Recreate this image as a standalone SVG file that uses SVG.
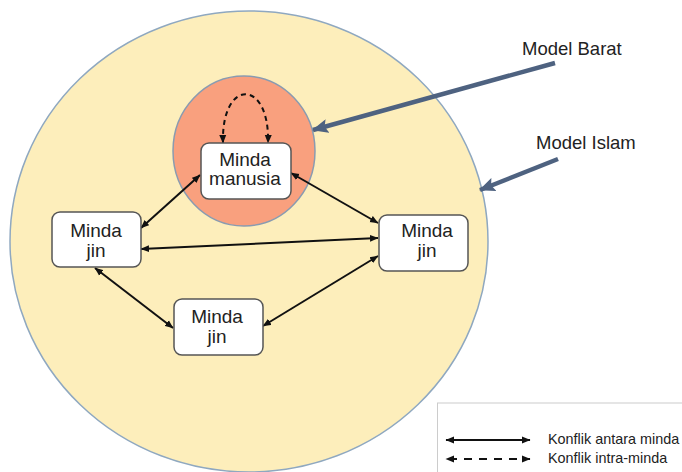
<svg xmlns="http://www.w3.org/2000/svg" width="682" height="472" viewBox="0 0 682 472">
<defs>
<marker id="ah" markerUnits="userSpaceOnUse" markerWidth="9" markerHeight="8" refX="8" refY="4" orient="auto-start-reverse" viewBox="0 0 9 8"><path d="M0,0.5 L8.5,4 L0,7.5 z" fill="#111"/></marker>
<marker id="bh" markerUnits="userSpaceOnUse" markerWidth="16" markerHeight="14" refX="15" refY="7" orient="auto" viewBox="0 0 16 14"><path d="M0,0 L16,7 L0,14 L3,7 z" fill="#4e6280"/></marker>
</defs>
<style>
.box{fill:#fff;stroke:#555;stroke-width:1.5}
.t{font-family:"Liberation Sans",Arial,sans-serif;font-size:19px;fill:#222;text-anchor:middle}
.lbl{font-family:"Liberation Sans",Arial,sans-serif;font-size:18.5px;fill:#222}
.lg{font-family:"Liberation Sans",Arial,sans-serif;font-size:14.4px;fill:#222}
.c{stroke:#111;stroke-width:2;fill:none;marker-start:url(#ah);marker-end:url(#ah)}
.d{stroke-dasharray:5,4}
.dl{stroke-dasharray:8,7;stroke-dashoffset:-3}
.m{stroke:#4e6280;stroke-width:4.5;fill:none;marker-end:url(#bh)}
</style>
<g id="islam"><ellipse cx="249" cy="241.5" rx="239" ry="230.5" fill="#fdeebb" stroke="#8fa8c0" stroke-width="1.5"/></g>
<g id="barat"><ellipse cx="244" cy="151" rx="71" ry="75" fill="#f9a07e" stroke="#8a9bb0" stroke-width="1.5"/></g>
<g id="connectors">
<path class="c d" d="M223,143 C221,78 270,78 268,143"/>
<line class="c" x1="141" y1="228" x2="200" y2="175"/>
<line class="c" x1="291" y1="173" x2="378" y2="223"/>
<line class="c" x1="141" y1="249" x2="378" y2="238"/>
<line class="c" x1="95" y1="268" x2="173" y2="328"/>
<line class="c" x1="263" y1="326" x2="378" y2="256"/>
<line class="m" x1="555" y1="63" x2="313" y2="130"/>
<line class="m" x1="558" y1="159" x2="480" y2="190"/>
</g>
<g id="manusia"><rect class="box" x="201" y="143" width="90" height="56" rx="8"/><text class="t" x="245" y="166">Minda</text><text class="t" x="245" y="185">manusia</text></g>
<g id="jin-left"><rect class="box" x="52" y="212" width="89" height="55" rx="8"/><text class="t" x="96" y="237">Minda</text><text class="t" x="96" y="257">jin</text></g>
<g id="jin-right"><rect class="box" x="379" y="215" width="89" height="56" rx="8"/><text class="t" x="427" y="237">Minda</text><text class="t" x="427" y="257">jin</text></g>
<g id="jin-bottom"><rect class="box" x="174" y="299" width="89" height="56" rx="8"/><text class="t" x="217" y="323">Minda</text><text class="t" x="217" y="343">jin</text></g>
<g id="labels"><text class="lbl" x="522" y="55">Model Barat</text><text class="lbl" x="536" y="149">Model Islam</text></g>
<g id="legend">
<rect x="437.5" y="403" width="260" height="80" fill="#fff" stroke="#ccc" stroke-width="1"/>
<line class="c" x1="446" y1="440" x2="530" y2="440"/>
<line class="c dl" x1="446" y1="459" x2="530" y2="459"/>
<text class="lg" x="548" y="444">Konflik antara minda</text>
<text class="lg" x="548" y="463">Konflik intra-minda</text>
</g>
</svg>
